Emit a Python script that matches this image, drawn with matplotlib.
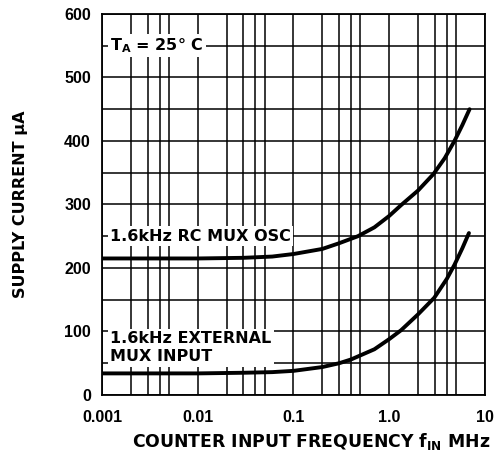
import matplotlib
matplotlib.use("Agg")
import matplotlib.pyplot as plt

plt.rcParams['font.family'] = ['Liberation Sans', 'DejaVu Sans']

# ---------- data ----------
freq_rc = [0.001, 0.003, 0.01, 0.03, 0.06, 0.1, 0.2, 0.3, 0.47, 0.7, 1.0, 1.33, 2.0, 2.9, 3.8, 4.8, 5.8, 6.9]
curr_rc = [215, 215, 215, 216, 218, 222, 230, 239, 250, 264, 282, 299, 322, 348, 373, 400, 425, 450]

freq_ext = [0.001, 0.003, 0.01, 0.03, 0.06, 0.1, 0.2, 0.3, 0.4, 0.7, 1.0, 1.33, 2.0, 2.95, 4.0, 4.8, 5.8, 6.8]
curr_ext = [34, 34, 34, 35, 36, 38, 44, 50, 56, 72, 88, 102, 127, 153, 183, 205, 231, 255]

x_ticks = [0.001, 0.01, 0.1, 1.0, 10]
x_tick_labels = ['0.001', '0.01', '0.1', '1.0', '10']
y_ticks = [0, 100, 200, 300, 400, 500, 600]

# ---------- plot ----------
fig = plt.figure(figsize=(4.99, 4.51), dpi=100)
ax = fig.add_axes([0.2044, 0.1242, 0.7675, 0.8448])

ax.set_xscale('log')
ax.set_xlim(0.001, 10)
ax.set_ylim(0, 600)

ax.set_xticks(x_ticks)
ax.set_xticklabels(x_tick_labels)
ax.set_xticks([d * m for d in x_ticks[:-1] for m in (2, 3, 4, 5)], minor=True)
ax.set_yticks(y_ticks)
ax.set_yticks(range(50, 600, 100), minor=True)
ax.tick_params(which='both', length=0)
ax.tick_params(axis='x', pad=11, labelsize=11.5)
ax.tick_params(axis='y', pad=8, labelsize=11.5)
for lab in ax.get_xticklabels() + ax.get_yticklabels():
    lab.set_fontweight('bold')

ax.grid(True, which='both', color='black', linewidth=1.1)
for sp in ax.spines.values():
    sp.set_linewidth(1.3)

ax.plot(freq_rc, curr_rc, color='black', lw=2.8, solid_capstyle='round', zorder=5)
ax.plot(freq_ext, curr_ext, color='black', lw=2.8, solid_capstyle='round', zorder=5)

# annotations with a white box that breaks the grid
box = dict(facecolor='white', edgecolor='none', boxstyle='square,pad=0.15')
txt = dict(family='DejaVu Sans', fontweight='bold', fontsize=11.5, ha='left', va='center', zorder=4)
ax.text(0.00121, 550, 'T$_\\mathregular{A}$ = 25° C', bbox=box, **txt)
ax.text(0.00121, 250, '1.6kHz RC MUX OSC', bbox=box, **txt)
ax.text(0.00121, 74, '1.6kHz EXTERNAL\nMUX INPUT', linespacing=1.25, bbox=box, **txt)

ax.set_ylabel('SUPPLY CURRENT μA', family='DejaVu Sans', fontsize=11.5,
              fontweight='bold', labelpad=26)
ax.set_xlabel('COUNTER INPUT FREQUENCY f$_\\mathregular{IN}$ MHz', family='DejaVu Sans',
              fontsize=12.4, fontweight='bold')
ax.xaxis.set_label_coords(0.546, -0.095)

fig.savefig('out.png', dpi=100, facecolor='white')
